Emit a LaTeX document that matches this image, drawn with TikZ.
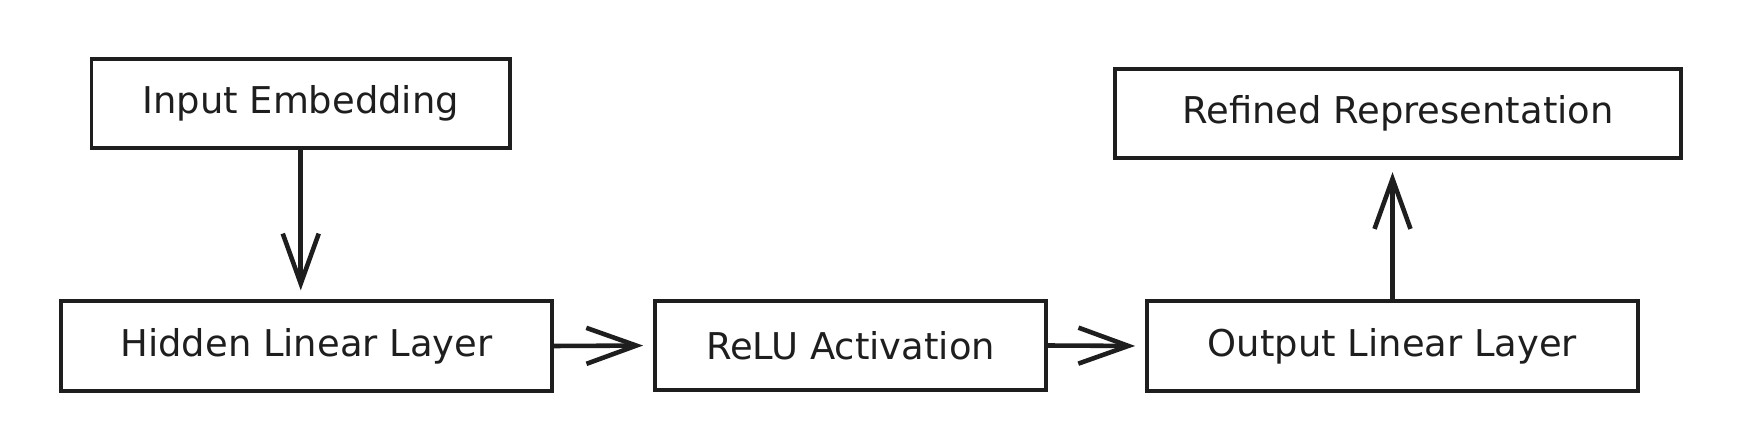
\documentclass[tikz,border=0pt]{standalone}
\usepackage{fontspec}
\setmainfont{DejaVu Sans}
\usetikzlibrary{arrows.meta}
\definecolor{sketchInk}{RGB}{30,30,30}
\begin{document}
\begin{tikzpicture}[x=0.02cm,y=-0.02cm,
  layerbox/.style={draw=sketchInk,line width=2.2pt,rectangle,minimum height=1.79cm,
    inner sep=0pt,text=sketchInk,font=\fontsize{21}{25}\selectfont},
  flow/.style={draw=sketchInk,line width=2.6pt,line cap=round,
    -{Straight Barb[length=1cm,width=0.72cm,line width=2.6pt]}}]
  \useasboundingbox (0,0) rectangle (1750,428);
  \node[layerbox,minimum width=8.37cm] (input) at (300.75,103.5) {Input Embedding};
  \node[layerbox,minimum width=9.82cm] (hidden) at (306.5,346) {Hidden Linear Layer};
  \node[layerbox,minimum width=7.82cm] (relu) at (850.5,345.5) {ReLU Activation};
  \node[layerbox,minimum width=9.82cm] (output) at (1392.5,346) {Output Linear Layer};
  \node[layerbox,minimum width=11.32cm] (refined) at (1398,113.5) {Refined Representation};
  \draw[flow,shorten >=0.18cm] (input.south) -- (input.south |- hidden.north);
  \draw[flow,shorten >=0.2cm] (hidden.east) -- (relu.west);
  \draw[flow,shorten >=0.2cm] (relu.east) -- (output.west);
  \draw[flow,shorten >=0.24cm] (output.north) -- (output.north |- refined.south);
\end{tikzpicture}
\end{document}
